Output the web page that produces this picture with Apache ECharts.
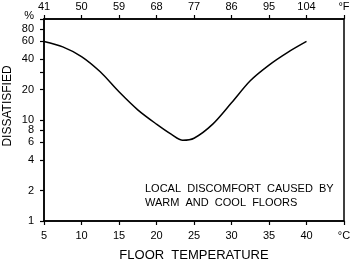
<!DOCTYPE html>
<html>
<head>
<meta charset="utf-8">
<script src="https://cdn.jsdelivr.net/npm/echarts@6/dist/echarts.min.js"></script>
<style>
  html, body { margin: 0; padding: 0; background: #fff; }
  #chart { width: 354px; height: 262px; }
</style>
</head>
<body>
<div id="chart"></div>
<script>
// floor temperature (°C) vs percent dissatisfied
const floorTemp = [5, 7.5, 10, 12.5, 15, 17.5, 20, 22, 23.5, 25, 27.5, 30, 32.5, 35, 37.5, 40];
const dissatisfied = [60, 53, 42.5, 30, 19, 12.6, 9.1, 7.2, 6.3, 6.6, 9.1, 14.8, 24.5, 35, 46.8, 60];

const yTicks = [1, 2, 4, 6, 8, 10, 20, 30, 40, 60, 80, 100];
const yLabels = [1, 2, 4, 6, 8, 10, 20, 40, 60, 80];

const font = "Liberation Sans, Arial, sans-serif";

const chart = echarts.init(document.getElementById("chart"));

const axisLine = { show: true, lineStyle: { color: "#000", width: 1.5 } };
const axisTick = { show: true, inside: false, length: 4, lineStyle: { color: "#000", width: 1.2 } };

const option = {
  animation: false,
  grid: {
    left: 44,
    right: 10,
    top: 19,
    bottom: 41,
    outerBoundsMode: "none",
    containLabel: false,
    show: true,
    borderColor: "#000",
    borderWidth: 1.5,
  },
  xAxis: [
    {
      type: "value",
      position: "bottom",
      min: 5,
      max: 45,
      interval: 5,
      axisLine: axisLine,
      axisTick: axisTick,
      splitLine: { show: false },
      axisLabel: {
        color: "#000",
        fontFamily: font,
        fontSize: 11,
        margin: 9,
        formatter: (v) => (v === 45 ? "°C" : String(v)),
      },
      name: "FLOOR  TEMPERATURE",
      nameLocation: "middle",
      nameGap: 28,
      nameTextStyle: { color: "#000", fontFamily: font, fontSize: 13 },
    },
    {
      type: "value",
      position: "top",
      min: 5,
      max: 45,
      interval: 5,
      axisLine: axisLine,
      axisTick: axisTick,
      splitLine: { show: false },
      axisLabel: {
        color: "#000",
        fontFamily: font,
        fontSize: 11,
        margin: 7,
        formatter: (v) => (v === 45 ? "°F" : String(Math.round(v * 9 / 5 + 32))),
      },
    },
  ],
  yAxis: {
    type: "log",
    logBase: 10,
    min: 1,
    max: 100,
    axisLine: axisLine,
    axisTick: Object.assign({}, axisTick, { customValues: yTicks }),
    splitLine: { show: false },
    axisLabel: {
      color: "#000",
      fontFamily: font,
      fontSize: 11,
      margin: 10,
      customValues: yLabels,
      formatter: (v) => String(Math.round(v)),
    },
  },
  graphic: [
    {
      // unit mark at the top of the percentage scale
      type: "text",
      x: 34,
      y: 16,
      style: {
        text: "%",
        fill: "#000",
        font: "11px " + font,
        align: "right",
        verticalAlign: "middle",
      },
    },
    {
      type: "text",
      x: 8,
      y: 106,
      rotation: Math.PI / 2,
      style: {
        text: "DISSATISFIED",
        fill: "#000",
        font: "12px " + font,
        align: "center",
        verticalAlign: "middle",
      },
    },
    {
      type: "text",
      left: 145,
      top: 182,
      style: {
        text: "LOCAL  DISCOMFORT  CAUSED  BY\nWARM  AND  COOL  FLOORS",
        fill: "#000",
        font: "11px " + font,
        lineHeight: 14,
      },
    },
  ],
  series: [
    {
      type: "line",
      xAxisIndex: 0,
      data: floorTemp.map((t, i) => [t, dissatisfied[i]]),
      smooth: 0.3,
      symbol: "none",
      lineStyle: { color: "#000", width: 1.5 },
    },
  ],
};

chart.setOption(option);
</script>
</body>
</html>
